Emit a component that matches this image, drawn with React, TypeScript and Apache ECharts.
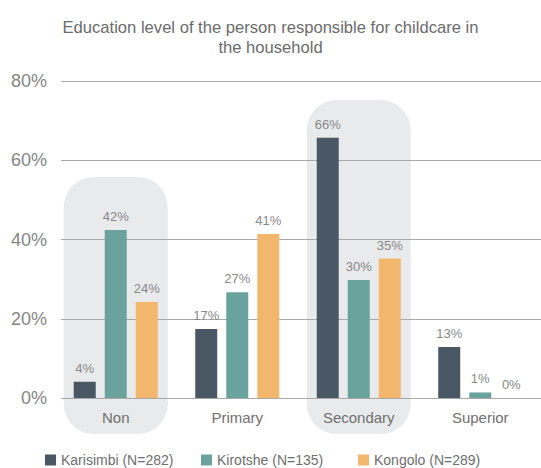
import React, { useEffect, useRef } from "react";
import * as echarts from "echarts";

const categories = ["Non", "Primary", "Secondary", "Superior"];
const seriesNames = ["Karisimbi (N=282)", "Kirotshe (N=135)", "Kongolo (N=289)"];
const karisimbi = [4.1, 17.4, 65.7, 12.9];
const kirotshe = [42.4, 26.7, 29.8, 1.4];
const kongolo = [24.2, 41.4, 35.2, 0];
const colors = ["#4a5866", "#6aa39e", "#f2b66c"];
const yTicks = [0, 20, 40, 60, 80];
// highlight boxes: [category index, top value, bottom value]
const highlightBoxes = [
  [0, 55.8, -9.1],
  [2, 75.2, -9.1],
];

const FONT = "'Liberation Sans', Arial, sans-serif";
const legendLefts = [40, 196, 353];

export default function App() {
  const ref = useRef<HTMLDivElement>(null);
  useEffect(() => {
    if (!ref.current) return;
    const chart = echarts.init(ref.current, undefined, { renderer: "svg" });
    const values = [karisimbi, kirotshe, kongolo];
    chart.setOption({
      animation: false,
      textStyle: { fontFamily: FONT },
      title: {
        text: "Education level of the person responsible for childcare in\nthe household",
        left: "center",
        top: 12,
        textStyle: { fontSize: 16.6, fontWeight: "normal", color: "#6b6b6b", lineHeight: 20, fontFamily: FONT },
      },
      legend: seriesNames.map((name, i) => ({
        data: [name],
        left: legendLefts[i],
        top: 448,
        icon: "rect",
        itemWidth: 11,
        itemHeight: 11,
        itemGap: 0,
        textStyle: { fontSize: 14, color: "#6e6e6e", fontFamily: FONT },
      })),
      grid: [
        { left: 55, right: -5, top: 81, bottom: 70 },
        { left: 61, right: 0, top: 81, bottom: 70 },
      ],
      xAxis: [
        {
          type: "category",
          gridIndex: 0,
          data: categories,
          axisLine: { show: false },
          axisTick: { show: false },
          axisLabel: { fontSize: 15, color: "#707070", margin: 12, fontFamily: FONT },
        },
        { type: "value", gridIndex: 1, show: false, min: 0, max: 1 },
      ],
      yAxis: [
        { type: "value", gridIndex: 0, min: 0, max: 80, interval: 20, show: false },
        {
          type: "value",
          gridIndex: 1,
          min: yTicks[0],
          max: yTicks[yTicks.length - 1],
          interval: 20,
          axisLine: { show: false },
          axisTick: { show: false },
          axisLabel: { formatter: "{value}%", fontSize: 18, color: "#858585", margin: 14, fontFamily: FONT },
          splitLine: { lineStyle: { color: "#a8a8a8", width: 1 } },
        },
      ],
      series: [
        {
          type: "custom",
          xAxisIndex: 0,
          yAxisIndex: 0,
          z: -1,
          silent: true,
          clip: false,
          encode: { x: 0, y: 1 },
          data: highlightBoxes,
          renderItem: (params: any, api: any) => {
            const cat = api.value(0);
            const top = api.coord([cat, api.value(1)]);
            const bottom = api.coord([cat, api.value(2)]);
            const w = api.size([1, 0])[0] * 0.855;
            return {
              type: "rect",
              shape: { x: top[0] - w / 2, y: top[1], width: w, height: bottom[1] - top[1], r: 30 },
              style: { fill: "#e9eaec" },
            };
          },
        },
        ...seriesNames.map((name, i) => ({
          name,
          type: "bar",
          xAxisIndex: 0,
          yAxisIndex: 0,
          data: values[i],
          barWidth: 22,
          barGap: "41%",
          itemStyle: { color: colors[i] },
          label: {
            show: true,
            position: "top",
            distance: 7,
            fontSize: 13,
            color: "#888888",
            fontFamily: FONT,
            formatter: (p: any) => Math.round(p.value) + "%",
          },
        })),
      ],
    });
    return () => chart.dispose();
  }, []);
  return <div ref={ref} style={{ position: "absolute", left: 0, top: 0, width: 541, height: 468 }} />;
}
